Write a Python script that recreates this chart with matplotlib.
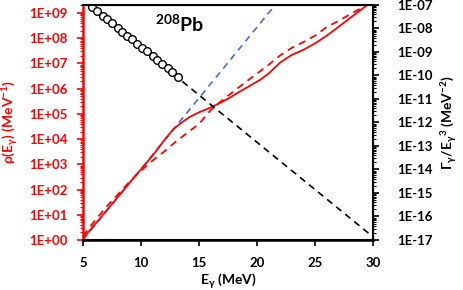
import numpy as np
import matplotlib
matplotlib.use('Agg')
import matplotlib.pyplot as plt
from matplotlib.ticker import LogLocator, FixedLocator, NullFormatter

plt.rcParams['font.family'] = ['Lato', 'DejaVu Sans']
plt.rcParams['font.weight'] = 'bold'
plt.rcParams['axes.labelweight'] = 'bold'
plt.rcParams['mathtext.default'] = 'regular'

# level density (left axis)
e_rho = [5.0, 6.0, 7.0, 8.0, 9.0, 10.0, 11.0, 12.0, 12.8, 13.5, 14.2, 15.0, 16.0, 16.5,
         17.5, 18.5, 19.5, 20.3, 21.0, 22.0, 23.0, 24.0, 25.0, 26.0, 27.0, 28.0, 29.0, 29.5]
rho_solid = [1.12, 4.0, 14, 50, 180, 630, 2.2e3, 8.9e3, 2.5e4, 4.5e4, 7.6e4, 1.15e5, 1.8e5, 2.3e5,
             4.0e5, 7.6e5, 1.4e6, 2.3e6, 4.0e6, 1.1e7, 2.2e7, 3.5e7, 6.3e7, 1.26e8, 2.8e8, 6.3e8, 1.4e9, 2.1e9]
e_rho2 = [5.0, 6.0, 7.0, 8.0, 9.0, 10.0, 11.0, 12.0, 13.0, 14.0, 15.0, 16.0, 17.0, 18.0,
          19.0, 20.0, 21.0, 22.0, 23.0, 24.0, 25.0, 26.0, 27.0, 28.0, 29.0, 29.5]
rho_dashed = [1.4, 5.6, 20, 63, 200, 560, 1.4e3, 3.2e3, 7.9e3, 1.8e4, 4.0e4, 1.4e5, 3.5e5, 7.9e5,
              1.8e6, 4.0e6, 8.9e6, 2.1e7, 4.2e7, 7.1e7, 1.26e8, 2.8e8, 4.8e8, 8.9e8, 1.6e9, 2.1e9]
e_ct = [5.0, 21.6]
rho_ct = [1.0, 2.2e9]

# gamma strength (right axis)
e_gsf = [5.8, 6.2, 6.7, 7.1, 7.5, 8.0, 8.4, 8.8, 9.2, 9.7, 10.1, 10.5, 11.0, 11.4, 11.8, 12.3, 12.7, 13.2]
gsf = [8.1e-8, 5.6e-8, 3.5e-8, 2.5e-8, 1.7e-8, 1.07e-8, 7.2e-9, 5.0e-9, 3.5e-9, 2.2e-9, 1.5e-9,
       1.05e-9, 6.6e-10, 4.6e-10, 3.2e-10, 2.0e-10, 1.4e-10, 8.7e-11]
e_fit = [5.0, 30.0]
gsf_fit = [1.55e-7, 1.35e-17]

fig = plt.figure(figsize=(4.63, 2.90), dpi=100)
ax = fig.add_axes([0.179, 0.1724, 0.627, 0.8106])
ax2 = ax.twinx()

ax.plot(e_ct, rho_ct, color='#4472c4', ls=(0, (4, 3)), lw=1.2, zorder=1)
ax.plot(e_rho2, rho_dashed, color='red', ls=(0, (4, 3)), lw=1.3, zorder=2)
ax.plot(e_rho, rho_solid, color='red', lw=1.3, zorder=3)
ax.set_yscale('log')
ax.set_ylim(1, 2.1e9)
ax.set_xlim(5, 30)
ax.set_xticks([5, 10, 15, 20, 25, 30])

ax2.plot(e_fit, gsf_fit, color='black', ls=(0, (4, 3)), lw=1.2, zorder=1)
ax2.plot(e_gsf, gsf, 'o', mfc='white', mec='black', mew=1.0, ms=5.5, zorder=2)
ax2.set_yscale('log')
ax2.set_ylim(1e-17, 1e-7)

ax.yaxis.set_major_locator(FixedLocator([10.0**k for k in range(10)]))
ax.yaxis.set_minor_locator(LogLocator(base=10, subs=np.arange(2, 10), numticks=20))
ax.yaxis.set_minor_formatter(NullFormatter())
ax.set_yticklabels(['1E+%02d' % k for k in range(10)])
ax2.yaxis.set_major_locator(FixedLocator([10.0**k for k in range(-17, -6)]))
ax2.yaxis.set_minor_locator(LogLocator(base=10, subs=np.arange(2, 10), numticks=30))
ax2.yaxis.set_minor_formatter(NullFormatter())
ax2.set_yticklabels(['1E-%02d' % (-k) for k in range(-17, -6)])

for s in ['top', 'bottom', 'right']:
    ax2.spines[s].set_linewidth(1.5)
    ax2.spines[s].set_color('black')
ax2.spines['left'].set_visible(False)
ax.spines['left'].set_color('red')
ax.spines['left'].set_linewidth(1.8)
ax.spines['bottom'].set_linewidth(1.8)

ax.tick_params(axis='y', which='both', colors='red', labelsize=9.5)
ax.tick_params(axis='y', which='major', length=4, width=1.2, pad=7)
ax.tick_params(axis='y', which='minor', length=2, width=0.8)
ax.tick_params(axis='x', length=4, width=1.2, labelsize=9.5, pad=8)
ax2.tick_params(axis='y', which='major', length=4, width=1.2, labelsize=9.5, pad=13)
ax2.tick_params(axis='y', which='minor', length=2, width=0.8)

ax.set_xlabel('E$_{γ}$ (MeV)', fontsize=10, labelpad=2)
ax.set_ylabel('ρ(E$_{γ}$) (MeV$^{-1}$)', fontsize=10, color='red', labelpad=6)
ax2.set_ylabel('Γ$_{γ}$/E$_{γ}$$^{3}$ (MeV$^{-2}$)', fontsize=10, labelpad=5)

ax.text(13.3, 3.7e8, '$^{208}$Pb', fontsize=14, ha='center', va='center')

fig.savefig('out.png', dpi=100)
